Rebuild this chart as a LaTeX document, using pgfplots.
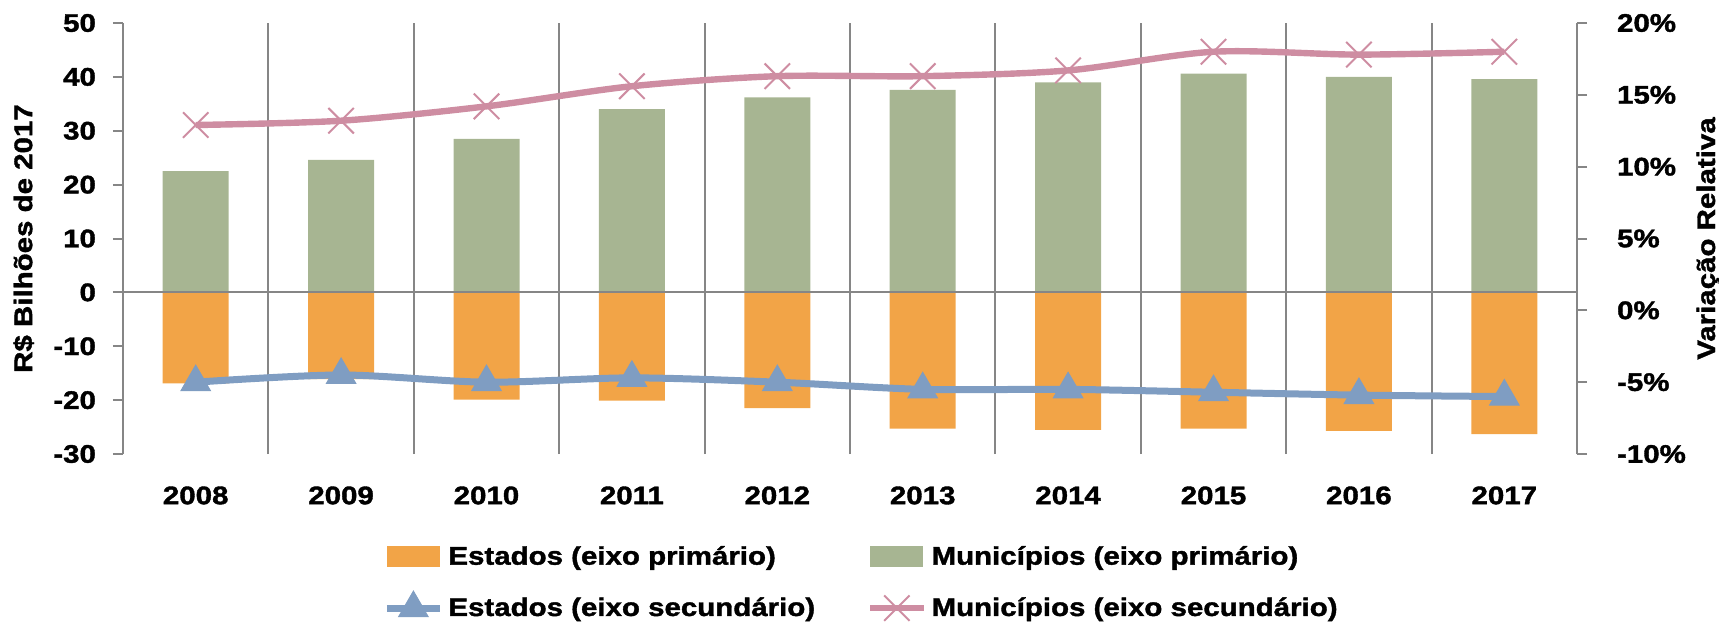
\documentclass[border=0pt]{standalone}
\usepackage{pgfplots}
\pgfplotsset{compat=1.18}
\usepackage{fontspec}
\setmainfont{Liberation Sans}[FakeStretch=1.16, BoldFeatures={FakeBold=1.5}]
\definecolor{orangeC}{HTML}{F2A447}
\definecolor{greenC}{HTML}{A7B592}
\definecolor{blueC}{HTML}{7F9DC2}
\definecolor{pinkC}{HTML}{CE8DA2}
\definecolor{gridC}{HTML}{868686}
\pgfplotsset{
  mybarleg/.style={legend image code/.code={\fill[##1] (0pt,-5.25pt) rectangle (26.5pt,5.25pt);}},
  mylineleg/.style={legend image code/.code={\draw[##1, mark repeat=2, mark phase=2] plot coordinates {(0pt,0pt) (13.25pt,0pt) (26.5pt,0pt)};}},
}
\begin{document}
\begin{tikzpicture}
\pgfplotsset{every axis/.append style={font=\fontsize{12.7}{15}\selectfont\bfseries}}
\begin{axis}[
  at={(0pt,0pt)}, anchor=south west,
  scale only axis, width=727pt, height=215.5pt,
  xmin=-0.5, xmax=9.5, ymin=-30, ymax=50,
  axis lines*=left,
  x axis line style={draw=none},
  y axis line style={draw=gridC, line width=1pt},
  xtick={0,1,2,3,4,5,6,7,8,9},
  xticklabels={2008,2009,2010,2011,2012,2013,2014,2015,2016,2017},
  xtick style={draw=none},
  x tick label style={yshift=-7.7pt},
  y tick label style={xshift=-5pt},
  minor xtick={0.5,1.5,2.5,3.5,4.5,5.5,6.5,7.5,8.5},
  minor tick length=0pt,
  xminorgrids, minor x grid style={draw=gridC, line width=1pt},
  ytick={-30,-20,-10,0,10,20,30,40,50},
  yticklabels={-30,-20,-10,0,10,20,30,40,50},
  tick align=outside, major tick length=5pt,
  ytick style={draw=gridC, line width=1pt},
  every axis y label/.style={at={(axis description cs:-0.0625,0.5)}, rotate=90, anchor=base},
  ylabel={R\$ Bilhões de 2017},
  clip=false,
]
\addplot[ybar, bar width=33pt, bar shift=0pt, fill=orangeC, draw=none] coordinates {
(0,-16.9) (1,-16.1) (2,-19.9) (3,-20.1) (4,-21.5) (5,-25.3) (6,-25.5) (7,-25.3) (8,-25.7) (9,-26.3)};
\addplot[ybar, bar width=33pt, bar shift=0pt, fill=greenC, draw=none] coordinates {
(0,22.5) (1,24.6) (2,28.5) (3,34.0) (4,36.2) (5,37.6) (6,39.0) (7,40.6) (8,40.0) (9,39.6)};
\draw[gridC, line width=1pt] (axis cs:-0.5,0) -- (axis cs:9.5,0);
\end{axis}
\begin{axis}[
  at={(0pt,0pt)}, anchor=south west,
  scale only axis, width=727pt, height=215.5pt,
  xmin=-0.5, xmax=9.5, ymin=-10, ymax=20,
  axis x line=none, axis y line*=right,
  y axis line style={draw=gridC, line width=1pt},
  ytick={-10,-5,0,5,10,15,20},
  yticklabels={-10\%,-5\%,0\%,5\%,10\%,15\%,20\%},
  y tick label style={xshift=11.5pt},
  tick align=outside, major tick length=5pt,
  ytick style={draw=gridC, line width=1pt},
  every axis y label/.style={at={(axis description cs:1.0949,0.5)}, rotate=90, anchor=base},
  ylabel={Variação Relativa},
  clip=false,
  legend columns=2,
  legend cell align=left,
  legend style={at={(axis description cs:0.1747,-0.2033)}, anchor=north west, draw=none, fill=none,
    nodes={inner sep=0pt}, row sep=11.75pt,
    /tikz/every odd column/.style={column sep=2.5pt},
    /tikz/column 2/.style={column sep=26pt}},
]
\addlegendimage{mybarleg, fill=orangeC, draw=none}
\addlegendentry{Estados (eixo primário)}
\addlegendimage{mybarleg, fill=greenC, draw=none}
\addlegendentry{Municípios (eixo primário)}
\addplot[mylineleg, blueC, line width=3.5pt, smooth, mark=triangle*, mark size=8.5pt,
  mark options={line width=0.5pt, fill=blueC, draw=blueC}]
coordinates {(0,-5.0) (1,-4.5) (2,-5.0) (3,-4.7) (4,-5.0) (5,-5.5) (6,-5.5) (7,-5.7) (8,-5.9) (9,-6.0)};
\addlegendentry{Estados (eixo secundário)}
\addplot[mylineleg, pinkC, line width=3.2pt, smooth, mark=x, mark size=9pt,
  mark options={line width=1pt}]
coordinates {(0,12.9) (1,13.2) (2,14.2) (3,15.6) (4,16.3) (5,16.3) (6,16.7) (7,18.0) (8,17.8) (9,18.0)};
\addlegendentry{Municípios (eixo secundário)}
\end{axis}
\pgfresetboundingbox
\path (-61.5pt,-84.5pt) rectangle (798pt,227pt);
\end{tikzpicture}
\end{document}
